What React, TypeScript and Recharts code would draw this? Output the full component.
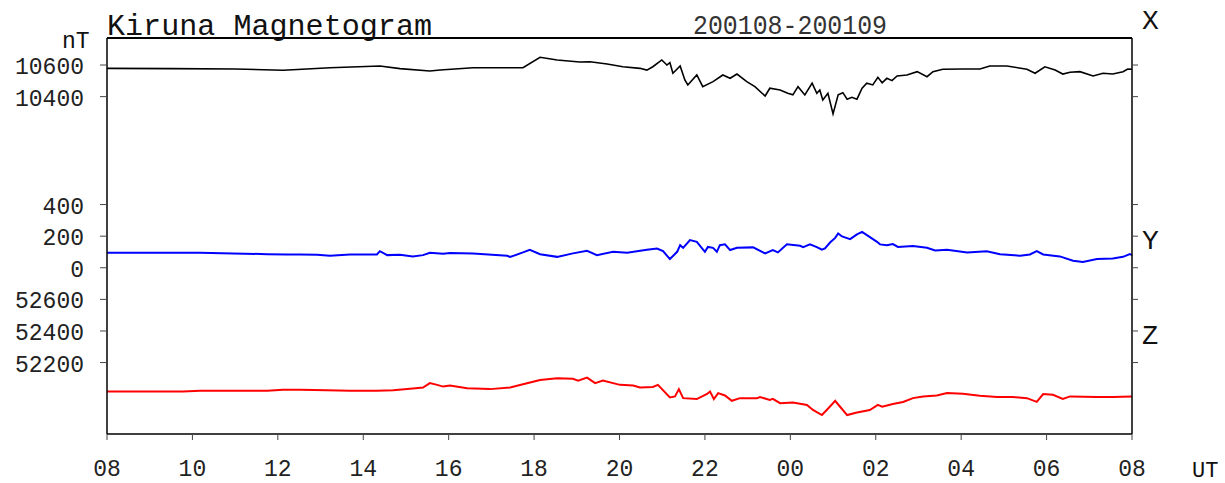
import { LineChart, Line, XAxis, YAxis } from 'recharts';

// time axis: hours after 08 UT (0 .. 24)
const hourTicks = [0, 2, 4, 6, 8, 10, 12, 14, 16, 18, 20, 22, 24];

// X component (nT)
const xTimes = [0, 1.5, 3.0, 4.12, 4.35, 5.22, 6.39, 6.86, 7.56, 7.8, 8.57, 9.74, 10.14, 10.54, 11.07, 11.31, 11.71, 12.08, 12.48, 12.64, 12.78, 12.99, 13.11, 13.18, 13.25, 13.42, 13.53, 13.6, 13.81, 13.95, 14.19, 14.42, 14.59, 14.75, 14.98, 15.17, 15.41, 15.52, 15.76, 15.94, 16.06, 16.18, 16.34, 16.51, 16.62, 16.69, 16.76, 16.88, 17.0, 17.12, 17.23, 17.33, 17.44, 17.56, 17.68, 17.79, 17.93, 18.05, 18.15, 18.26, 18.38, 18.5, 18.73, 18.97, 19.2, 19.34, 19.57, 20.04, 20.44, 20.67, 21.07, 21.54, 21.73, 21.96, 22.2, 22.38, 22.55, 22.78, 23.09, 23.32, 23.55, 23.79, 23.9, 24];
const xValues = [10579, 10577, 10575, 10567, 10570, 10583, 10594, 10577, 10562, 10568, 10583, 10583, 10649, 10632, 10619, 10621, 10606, 10589, 10579, 10568, 10589, 10632, 10600, 10615, 10548, 10594, 10505, 10474, 10537, 10463, 10495, 10537, 10516, 10543, 10495, 10463, 10404, 10453, 10442, 10421, 10411, 10463, 10411, 10485, 10421, 10442, 10379, 10421, 10291, 10411, 10425, 10384, 10396, 10384, 10453, 10485, 10474, 10522, 10488, 10516, 10501, 10531, 10537, 10558, 10526, 10558, 10573, 10575, 10575, 10594, 10594, 10573, 10548, 10589, 10568, 10543, 10554, 10558, 10531, 10548, 10543, 10558, 10575, 10573];

// Y component (nT)
const yTimes = [0, 2.18, 2.95, 3.75, 4.21, 4.52, 4.92, 5.22, 5.69, 6.32, 6.39, 6.56, 6.86, 7.16, 7.4, 7.56, 7.87, 8.03, 8.57, 9.37, 9.44, 9.74, 9.9, 10.14, 10.54, 10.91, 11.24, 11.47, 11.85, 12.18, 12.64, 12.88, 13.02, 13.18, 13.35, 13.42, 13.49, 13.65, 13.81, 14.0, 14.07, 14.19, 14.28, 14.35, 14.47, 14.59, 14.75, 15.13, 15.41, 15.59, 15.71, 15.92, 16.23, 16.3, 16.46, 16.62, 16.74, 16.81, 16.93, 17.05, 17.12, 17.21, 17.4, 17.56, 17.68, 17.82, 18.03, 18.1, 18.26, 18.4, 18.52, 18.87, 19.2, 19.39, 19.67, 20.14, 20.6, 20.91, 21.38, 21.61, 21.77, 21.92, 22.31, 22.62, 22.85, 23.18, 23.55, 23.79, 23.95, 24];
const yValues = [95, 95, 91, 86, 84, 84, 82, 76, 84, 84, 105, 80, 82, 72, 80, 95, 88, 93, 91, 76, 68, 97, 114, 86, 69, 91, 107, 80, 101, 95, 114, 122, 105, 55, 101, 143, 126, 175, 164, 101, 132, 126, 101, 143, 148, 112, 126, 129, 91, 112, 97, 148, 139, 131, 148, 131, 114, 122, 160, 189, 217, 198, 181, 211, 227, 202, 164, 148, 143, 150, 132, 137, 126, 110, 114, 97, 105, 86, 76, 84, 105, 84, 72, 44, 36, 55, 59, 69, 86, 80];

// Z component (nT)
const zTimes = [0, 1.78, 2.18, 3.75, 4.12, 4.52, 5.15, 5.69, 6.32, 6.7, 7.16, 7.4, 7.56, 7.73, 7.87, 8.03, 8.43, 8.97, 9.44, 9.74, 10.14, 10.54, 10.91, 11.03, 11.24, 11.43, 11.61, 12.01, 12.32, 12.48, 12.78, 12.9, 13.18, 13.3, 13.39, 13.49, 13.81, 14.05, 14.12, 14.21, 14.31, 14.47, 14.63, 14.82, 15.22, 15.29, 15.52, 15.59, 15.76, 16.06, 16.39, 16.53, 16.74, 16.88, 17.05, 17.16, 17.33, 17.56, 17.86, 18.05, 18.15, 18.4, 18.64, 18.87, 19.11, 19.43, 19.67, 20.04, 20.44, 20.84, 21.21, 21.54, 21.77, 21.92, 22.15, 22.38, 22.55, 23.18, 23.55, 24];
const zValues = [52017, 52017, 52021, 52021, 52028, 52028, 52025, 52021, 52021, 52025, 52036, 52042, 52070, 52059, 52048, 52055, 52038, 52032, 52042, 52063, 52090, 52101, 52097, 52086, 52105, 52070, 52086, 52059, 52055, 52042, 52046, 52059, 51979, 51986, 52032, 51975, 51969, 52001, 52017, 51969, 52007, 51992, 51958, 51975, 51975, 51982, 51964, 51970, 51943, 51947, 51932, 51900, 51868, 51908, 51958, 51922, 51868, 51884, 51900, 51932, 51921, 51938, 51951, 51975, 51986, 51992, 52007, 52003, 51990, 51982, 51982, 51975, 51951, 52001, 51996, 51970, 51986, 51982, 51982, 51986];

// stacking offsets: each trace shares one nT scale, shifted on the plot
const X_OFFSET = 9317;
const Z_OFFSET = 52800;
const DOMAIN: [number, number] = [-1052, 1454];
const yTicks = [-600, -400, -200, 0, 200, 400, 1083, 1283];

const xSeries = xTimes.map((t, i) => ({ t, v: xValues[i] - X_OFFSET }));
const ySeries = yTimes.map((t, i) => ({ t, v: yValues[i] }));
const zSeries = zTimes.map((t, i) => ({ t, v: zValues[i] - Z_OFFSET }));

const FONT = '"Liberation Mono", monospace';

const fieldLabel = (v: number) => (v > 1000 ? v + X_OFFSET : v < 0 ? v + Z_OFFSET : v);
const hourLabel = (h: number) => String((8 + h) % 24).padStart(2, '0');

const LeftTick = ({ x, y, payload }: any) => {
  const s = String(fieldLabel(payload.value));
  return (
    <text x={x} y={y + 9} textAnchor="end" fontFamily={FONT} fontSize={23} fill="#222">
      {s}
    </text>
  );
};

const BottomTick = ({ x, y, payload }: any) => {
  const s = hourLabel(payload.value);
  return (
    <text x={x} y={y + 36} textAnchor="middle" fontFamily={FONT} fontSize={23} fill="#222">
      {s}
    </text>
  );
};

export default function App() {
  return (
    <div style={{ position: 'absolute', left: 0, top: 0, width: 1225, height: 483, background: '#fff' }}>
      <LineChart width={1225} height={483} margin={{ top: 0, right: 0, bottom: 0, left: 0 }}>
        <XAxis xAxisId="bottom" type="number" dataKey="t" domain={[0, 24]} ticks={hourTicks} interval={0}
          height={49} tickSize={6} tickMargin={0} tick={<BottomTick />}
          axisLine={{ stroke: '#000', strokeWidth: 1.5 }} tickLine={{ stroke: '#444' }} />
        <XAxis xAxisId="top" orientation="top" type="number" dataKey="t" domain={[0, 24]} ticks={hourTicks} interval={0}
          height={38} tickSize={6} tickFormatter={() => ''}
          axisLine={{ stroke: '#000', strokeWidth: 2 }} tickLine={{ stroke: '#444' }} />
        <YAxis yAxisId="left" type="number" domain={DOMAIN} allowDataOverflow ticks={yTicks} interval={0}
          width={107} tickSize={7} tickMargin={16} tick={<LeftTick />}
          axisLine={{ stroke: '#000', strokeWidth: 1.5 }} tickLine={{ stroke: '#444' }} />
        <YAxis yAxisId="right" orientation="right" type="number" domain={DOMAIN} allowDataOverflow ticks={yTicks} interval={0}
          width={93} tickSize={6} tickFormatter={() => ''}
          axisLine={{ stroke: '#000', strokeWidth: 1.5 }} tickLine={{ stroke: '#444' }} />
        <Line xAxisId="bottom" yAxisId="left" data={xSeries} dataKey="v" type="linear" dot={false}
          stroke="#000" strokeWidth={1.6} isAnimationActive={false} />
        <Line xAxisId="bottom" yAxisId="left" data={ySeries} dataKey="v" type="linear" dot={false}
          stroke="#0000ff" strokeWidth={2} isAnimationActive={false} />
        <Line xAxisId="bottom" yAxisId="left" data={zSeries} dataKey="v" type="linear" dot={false}
          stroke="#ff0000" strokeWidth={2} isAnimationActive={false} />
      </LineChart>
      <svg width={1225} height={483} style={{ position: 'absolute', left: 0, top: 0, pointerEvents: 'none' }}>
        <g fontFamily={FONT} fill="#111">
          <text x={107} y={35} fontSize={29} textLength={325} lengthAdjust="spacingAndGlyphs">Kiruna Magnetogram</text>
          <text x={693} y={34} fontSize={27} textLength={194} lengthAdjust="spacingAndGlyphs" fill="#333">200108-200109</text>
          <text x={62} y={48} fontSize={23}>nT</text>
          <text x={1142} y={29} fontSize={28}>X</text>
          <text x={1142} y={249} fontSize={28}>Y</text>
          <text x={1142} y={344} fontSize={27}>Z</text>
          <text x={1192} y={477} fontSize={22}>UT</text>
        </g>
      </svg>
    </div>
  );
}
